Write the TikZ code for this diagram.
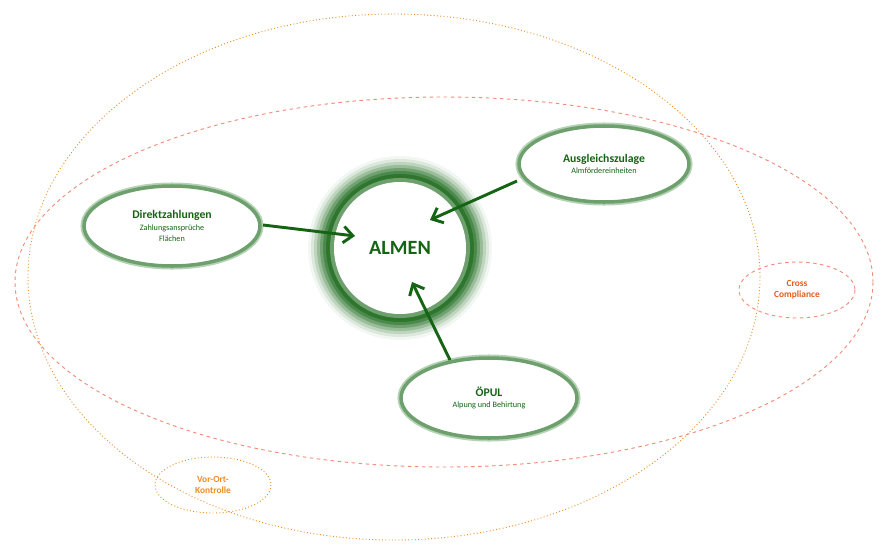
\documentclass[tikz,border=0pt]{standalone}
\usepackage{fontspec}
\setmainfont{Carlito}
\usetikzlibrary{arrows.meta}
\definecolor{dgreen}{RGB}{20,100,20}
\definecolor{mgreen}{RGB}{110,160,110}
\definecolor{lgreen}{RGB}{180,210,180}
\definecolor{salmon}{RGB}{240,140,120}
\definecolor{dorange}{RGB}{235,140,40}
\definecolor{ored}{RGB}{230,90,30}
\tikzset{
  topic/.style={draw=mgreen, line width=3pt, fill=white},
  halo/.style={draw=lgreen, line width=6pt},
  link/.style={-{Straight Barb[length=8pt,width=14pt]}, line width=2.5pt, color=dgreen}
}
\begin{document}
\begin{tikzpicture}[x=0.03cm,y=-0.03cm]
  \useasboundingbox (0,0) rectangle (883,555);
  \draw[dorange, dotted, thick] (394,277) ellipse (366 and 263);
  \draw[salmon, dashed, thick] (444,282) ellipse (429 and 185);
  \draw[salmon, dashed, thick] (797,290) ellipse (58 and 28);
  \draw[dorange, dotted, thick] (213,485) ellipse (58 and 28);
  \node[ored, font=\bfseries\footnotesize, align=center] (cc) at (797,290) {Cross\\Compliance};
  \node[dorange, font=\bfseries\footnotesize, align=center] (vok) at (213,485) {Vor-Ort-\\Kontrolle};
  % glow
  \foreach \r/\o in {92/0.05,89/0.1,86/0.15,83/0.22,80/0.3,77/0.4,74/0.55}
    \fill[dgreen, opacity=\o] (400,248) circle (\r);
  \fill[mgreen] (400,248) circle (70);
  \fill[white] (400,248) circle (66);
  \node[dgreen, font=\bfseries\LARGE] (almen) at (400,248) {ALMEN};
  \draw[halo] (604,164) ellipse (85 and 38);
  \draw[topic] (604,164) ellipse (85 and 38);
  \node[dgreen, align=center] (az) at (604,164) {\textbf{Ausgleichszulage}\\[-2pt]{\scriptsize Almfördereinheiten}};
  \draw[halo] (172,226) ellipse (88 and 40);
  \draw[topic] (172,226) ellipse (88 and 40);
  \node[dgreen, align=center] (dz) at (172,226) {\textbf{Direktzahlungen}\\[-2pt]{\scriptsize Zahlungsansprüche}\\[-3pt]{\scriptsize Flächen}};
  \draw[halo] (489,398) ellipse (88 and 40);
  \draw[topic] (489,398) ellipse (88 and 40);
  \node[dgreen, align=center] (oe) at (489,398) {\textbf{ÖPUL}\\[-2pt]{\scriptsize Alpung und Behirtung}};
  \coordinate (dzr) at (263,225);
  \coordinate (azl) at (517,181);
  \coordinate (oet) at (450,360);
  \coordinate (a1) at (355,236);
  \coordinate (a2) at (430,220);
  \coordinate (a3) at (412,282);
  \draw[link] (dzr) -- (a1);
  \draw[link] (azl) -- (a2);
  \draw[link] (oet) -- (a3);
\end{tikzpicture}
\end{document}
